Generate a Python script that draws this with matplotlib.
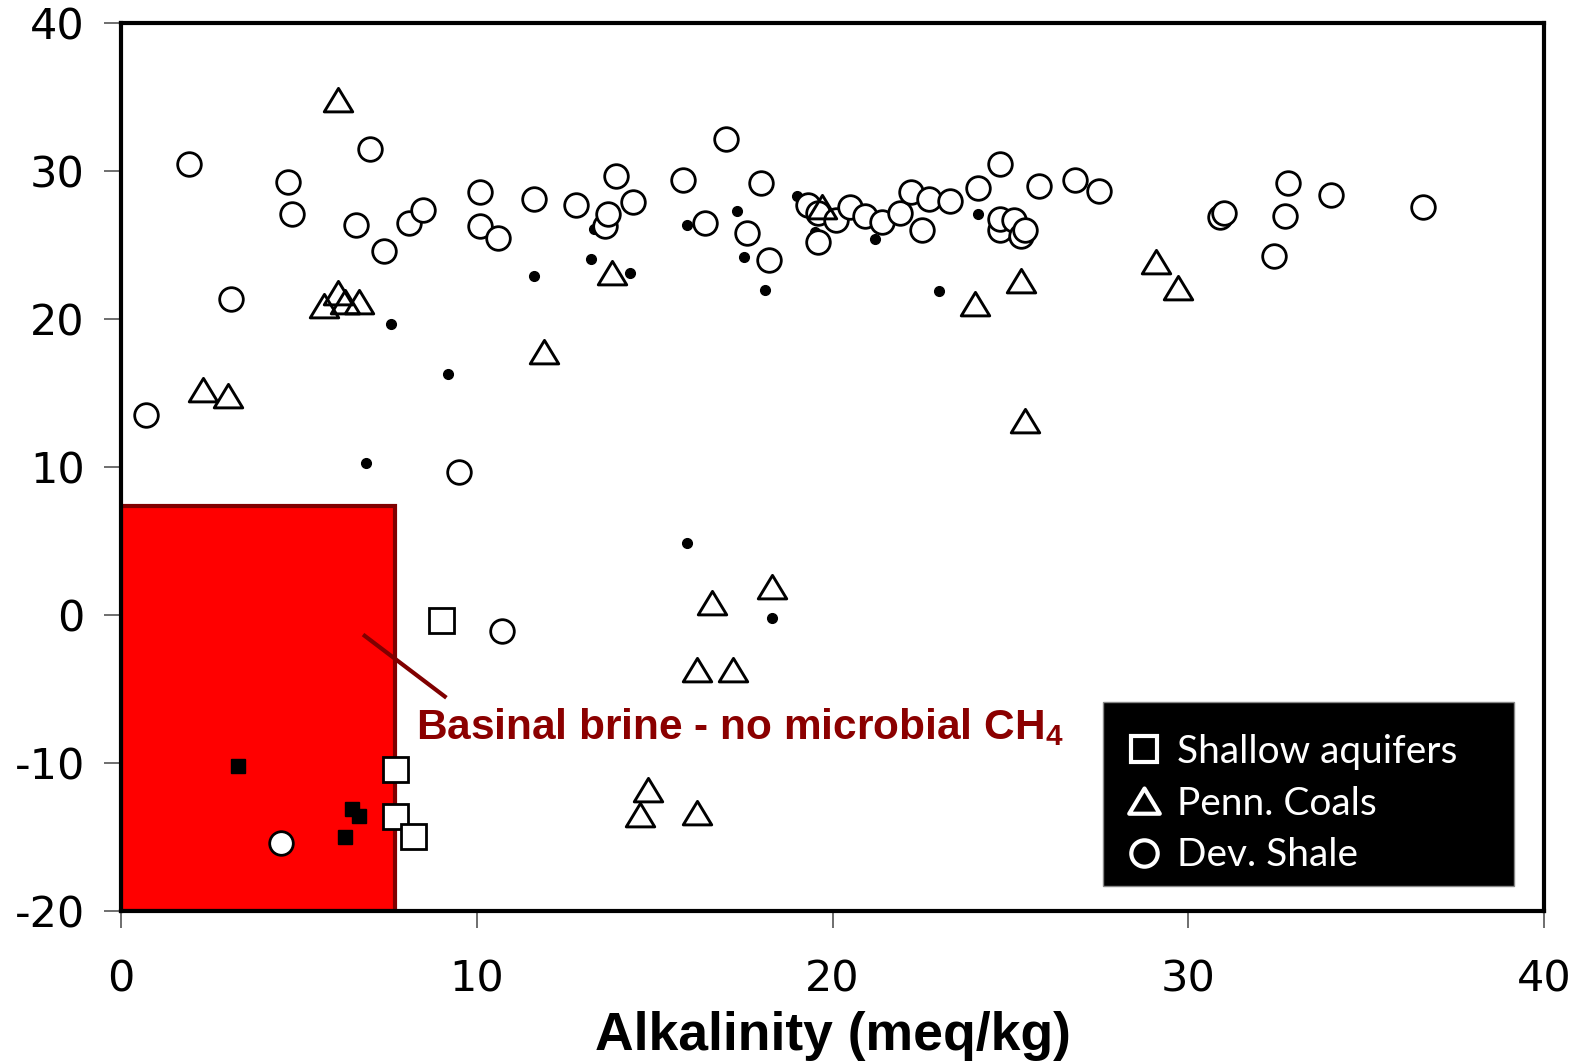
import numpy as np
import matplotlib
matplotlib.use("Agg")
import matplotlib.pyplot as plt
from matplotlib.lines import Line2D
from matplotlib.patches import Rectangle
from matplotlib.path import Path

plt.rcParams["axes.unicode_minus"] = False
plt.rcParams["mathtext.fontset"] = "custom"
plt.rcParams["mathtext.bf"] = "Liberation Sans:bold"
plt.rcParams["mathtext.rm"] = "Liberation Sans"

# Dev. Shale (open circles)
shale_x = [0.7, 1.9, 3.1, 4.7, 4.8, 6.6, 7.0, 7.4, 8.1, 8.5, 10.1, 10.1, 10.6, 11.6,
           12.8, 13.6, 13.7, 13.9, 14.4, 15.8, 16.4, 17.0, 17.6, 18.0, 18.2, 19.3,
           19.6, 19.6, 20.1, 20.5, 20.9, 21.4, 21.9, 22.2, 22.5, 22.7, 23.3, 24.1,
           24.7, 24.7, 24.7, 25.1, 25.3, 25.4, 25.8, 26.8, 27.5, 30.9, 31.0, 32.4,
           32.7, 32.8, 34.0, 36.6, 9.5, 10.7, 4.5]
shale_y = [13.5, 30.5, 21.4, 29.3, 27.1, 26.4, 31.5, 24.6, 26.5, 27.4, 28.6, 26.3,
           25.5, 28.1, 27.7, 26.3, 27.1, 29.7, 27.9, 29.4, 26.5, 32.2, 25.8, 29.2,
           24.0, 27.7, 27.2, 25.2, 26.7, 27.6, 27.0, 26.6, 27.2, 28.6, 26.0, 28.1,
           28.0, 28.9, 30.5, 26.0, 26.8, 26.7, 25.6, 26.0, 29.0, 29.4, 28.7, 26.9,
           27.2, 24.3, 27.0, 29.2, 28.4, 27.6, 9.7, -1.1, -15.4]

# Penn. Coals (open triangles)
coal_x = [6.1, 2.3, 3.0, 5.7, 6.1, 6.3, 6.7, 11.9, 13.8, 19.7, 25.4, 25.3, 24.0,
          29.1, 29.7, 16.6, 18.3, 16.2, 17.2, 14.8, 14.6, 16.2]
coal_y = [34.8, 15.2, 14.8, 20.9, 21.8, 21.2, 21.2, 17.8, 23.1, 27.6, 13.1, 22.6,
          21.0, 23.9, 22.1, 0.8, 1.9, -3.7, -3.7, -11.8, -13.5, -13.4]

# Shallow aquifers (open squares)
aquifer_x = [9.0, 7.7, 7.7, 8.2]
aquifer_y = [-0.3, -10.4, -13.6, -14.9]

# other samples (small filled dots / squares)
dot_x = [7.6, 9.2, 6.9, 11.6, 13.2, 13.3, 14.3, 15.9, 17.3, 17.5, 18.1, 19.0, 19.5,
         21.2, 23.0, 24.1, 15.9, 18.3]
dot_y = [19.7, 16.3, 10.3, 22.9, 24.1, 26.1, 23.1, 26.4, 27.3, 24.2, 22.0, 28.3,
         25.9, 25.4, 21.9, 27.1, 4.9, -0.2]
sq_x = [3.3, 6.5, 6.7, 6.3]
sq_y = [-10.2, -13.1, -13.6, -15.0]

# brine box
box_x = [0, 7.7]
box_y = [-20, 7.4]

tri = Path([(-1, -0.8), (1, -0.8), (0, 0.85), (-1, -0.8)], closed=True)

fig = plt.figure(figsize=(15.79, 10.63), dpi=100)
ax = fig.add_axes([0.0766, 0.143, 0.9014, 0.835])

ax.add_patch(Rectangle((box_x[0], box_y[0]), box_x[1] - box_x[0], box_y[1] - box_y[0],
                       facecolor="#ff0000", edgecolor="#800000", linewidth=3, zorder=1))

ax.plot(dot_x, dot_y, "o", ms=7, color="black", zorder=2)
ax.plot(sq_x, sq_y, "s", ms=9.5, color="black", zorder=2)
ax.plot(shale_x, shale_y, "o", ms=17, mfc="white", mec="black", mew=2, zorder=3)
ax.plot(coal_x, coal_y, marker=tri, ls="none", ms=20.5, mfc="none", mec="black", mew=2.1, zorder=3)
ax.plot(aquifer_x, aquifer_y, "s", ms=18, mfc="white", mec="black", mew=2, zorder=3)

# annotation
ax.plot([6.85, 9.1], [-1.4, -5.5], color="#800000", lw=3, zorder=4)
ax.text(8.3, -7.6, r"Basinal brine - no microbial CH$\mathbf{_4}$", color="#8b0000",
        fontsize=30.5, fontweight="bold", family="Liberation Sans", va="center", ha="left")

ax.set_xlim(0, 40)
ax.set_ylim(-20, 40)
ax.set_xticks([0, 10, 20, 30, 40])
ax.set_yticks([-20, -10, 0, 10, 20, 30, 40])
ax.tick_params(labelsize=31, length=12, width=1.2, color="#555555")
ax.tick_params(axis="y", pad=14)
ax.tick_params(axis="x", pad=22)
for s in ax.spines.values():
    s.set_linewidth(3)
ax.set_xlabel("Alkalinity (meq/kg)", fontsize=38.5, fontweight="bold",
              family="Liberation Sans", labelpad=8)

# legend box (black panel)
ax.add_patch(Rectangle((0.690, 0.028), 0.289, 0.208, transform=ax.transAxes,
                       facecolor="black", edgecolor="#888888", lw=1, zorder=4.9))
handles = [
    Line2D([], [], marker="s", ls="none", ms=19, mfc="black", mec="white", mew=3),
    Line2D([], [], marker=tri, ls="none", ms=22, mfc="black", mec="white", mew=3),
    Line2D([], [], marker="o", ls="none", ms=19, mfc="black", mec="white", mew=3),
]
leg = ax.legend(handles, ["Shallow aquifers", "Penn. Coals", "Dev. Shale"],
                loc="upper left", bbox_to_anchor=(0.690, 0.2235), borderaxespad=0,
                frameon=False, prop={"family": "Lato", "size": 28}, handletextpad=0.35,
                handlelength=1.0, labelspacing=0.4, borderpad=0.55)
for t in leg.get_texts():
    t.set_color("white")

fig.savefig("out.png", dpi=100)
